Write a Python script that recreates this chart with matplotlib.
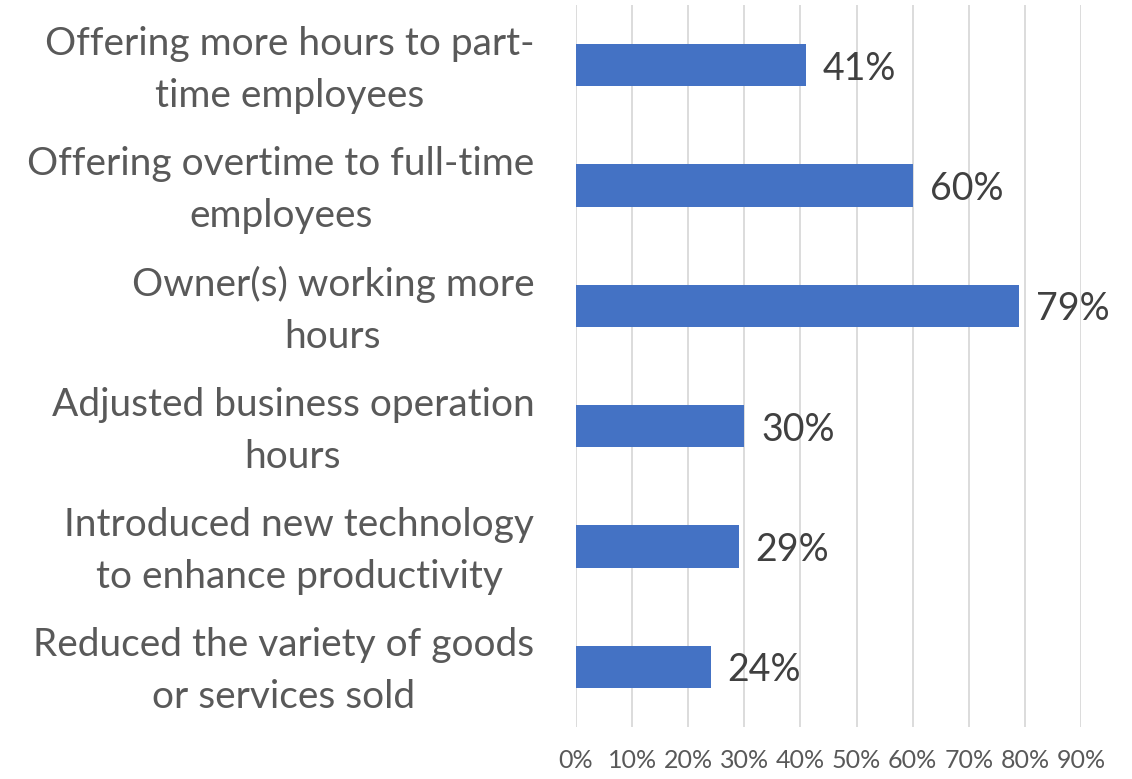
import matplotlib.pyplot as plt
from matplotlib.ticker import MultipleLocator, PercentFormatter
from matplotlib.transforms import ScaledTranslation

# data
categories = ["Offering more hours to part-\ntime employees",
              "Offering overtime to full-time\nemployees",
              "Owner(s) working more\nhours",
              "Adjusted business operation\nhours",
              "Introduced new technology\nto enhance productivity",
              "Reduced the variety of goods\nor services sold"]
values = [41, 60, 79, 30, 29, 24]

plt.rcParams['font.family'] = ['Lato', 'DejaVu Sans']

fig = plt.figure(figsize=(11.32, 7.79), dpi=100)
ax = fig.add_axes([0.5088, 0.0668, 0.955 - 0.5088, 0.9268])

y = list(range(len(categories)))
bars = ax.barh(y, values, height=0.35, color="#4472C4", zorder=3)
ax.set_ylim(len(categories) - 0.5, -0.5)
ax.set_xlim(0, 90)

# value labels
for b, v in zip(bars, values):
    ax.text(b.get_width() + 3.0, b.get_y() + b.get_height() / 2, f"{v}%",
            va="center_baseline", ha="left", fontsize=27, color="#404040")

# category labels
ax.set_yticks(y)
ax.set_yticklabels(categories, fontsize=28, color="#595959",
                   multialignment="center", linespacing=1.55)
ax.tick_params(axis="y", length=0, pad=30)
shift = ScaledTranslation(0, 5 / 72, fig.dpi_scale_trans)
for lab in ax.get_yticklabels():
    lab.set_transform(lab.get_transform() + shift)

ax.xaxis.set_major_locator(MultipleLocator(10))
ax.xaxis.set_major_formatter(PercentFormatter(decimals=0))
ax.tick_params(axis="x", length=0, labelsize=18, labelcolor="#595959", pad=16)

ax.grid(axis="x", color="#D9D9D9", linewidth=1.3, zorder=0)
for s in ax.spines.values():
    s.set_visible(False)

fig.savefig("out.png", dpi=100)
